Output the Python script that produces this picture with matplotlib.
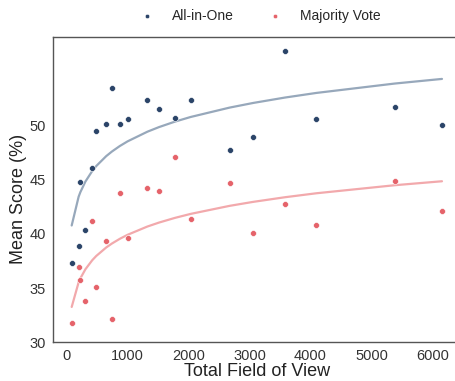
import numpy as np
import matplotlib
matplotlib.use('Agg')
import matplotlib.pyplot as plt
import seaborn as sns

sns.set_style('white')
plt.rcParams['font.family'] = ['Liberation Sans', 'DejaVu Sans']

# Total field of view for each configuration
fov = [87, 201, 230, 312, 424, 489, 652, 745, 876, 1003, 1327, 1517, 1778, 2037,
       2675, 3061, 3584, 4095, 5380, 6155]
# Mean scores (%)
all_in_one = [37.3, 38.9, 44.8, 40.4, 46.1, 49.5, 50.2, 53.5, 50.2, 50.6, 52.4, 51.5,
              50.7, 52.4, 47.8, 49.0, 56.9, 50.6, 51.7, 50.1]
majority = [31.8, 36.9, 35.7, 33.8, 41.2, 35.1, 39.3, 32.1, 43.8, 39.6, 44.2, 44.0,
            47.1, 41.4, 44.7, 40.1, 42.8, 40.8, 44.9, 42.1]

blue = '#2b4468'
red = '#e5636a'
blue_line = '#97a8bb'
red_line = '#f2a9ac'

fig = plt.figure(figsize=(4.56, 3.81), dpi=100)
ax = fig.add_axes([0.116, 0.102, 0.895, 0.801])

x = np.array(fov)
for y, c, lc, lab in [(all_in_one, blue, blue_line, 'All-in-One'),
                      (majority, red, red_line, 'Majority Vote')]:
    y = np.array(y)
    ax.scatter(x, y, s=18, color=c, edgecolor='white', linewidth=0.4, label=lab, zorder=3)
    # log trend line
    b, a = np.polyfit(np.log(x), y, 1)
    ax.plot(x, a + b * np.log(x), color=lc, linewidth=1.6, zorder=2)

ax.set_xlim(-221, 6467)
ax.set_ylim(30, 58.2)
ax.set_yticks([30, 35, 40, 45, 50])
ax.set_xticks([0, 1000, 2000, 3000, 4000, 5000, 6000])
ax.tick_params(labelsize=10.5, colors='#333333', pad=1.5)
for s in ax.spines.values():
    s.set_color('#555555')
    s.set_linewidth(1.0)
ax.spines['right'].set_visible(False)

ax.set_xlabel('Total Field of View', fontsize=13, color='#222222', labelpad=0)
ax.set_ylabel('Mean Score (%)', fontsize=13, color='#222222')
ax.yaxis.set_label_coords(-0.063, 0.47)

fig.legend(loc='upper center', bbox_to_anchor=(257 / 456, 1.01), ncol=2, frameon=False,
           fontsize=10, markerscale=0.75, handletextpad=0.8, columnspacing=2.0)

fig.savefig('out.png', dpi=100)
